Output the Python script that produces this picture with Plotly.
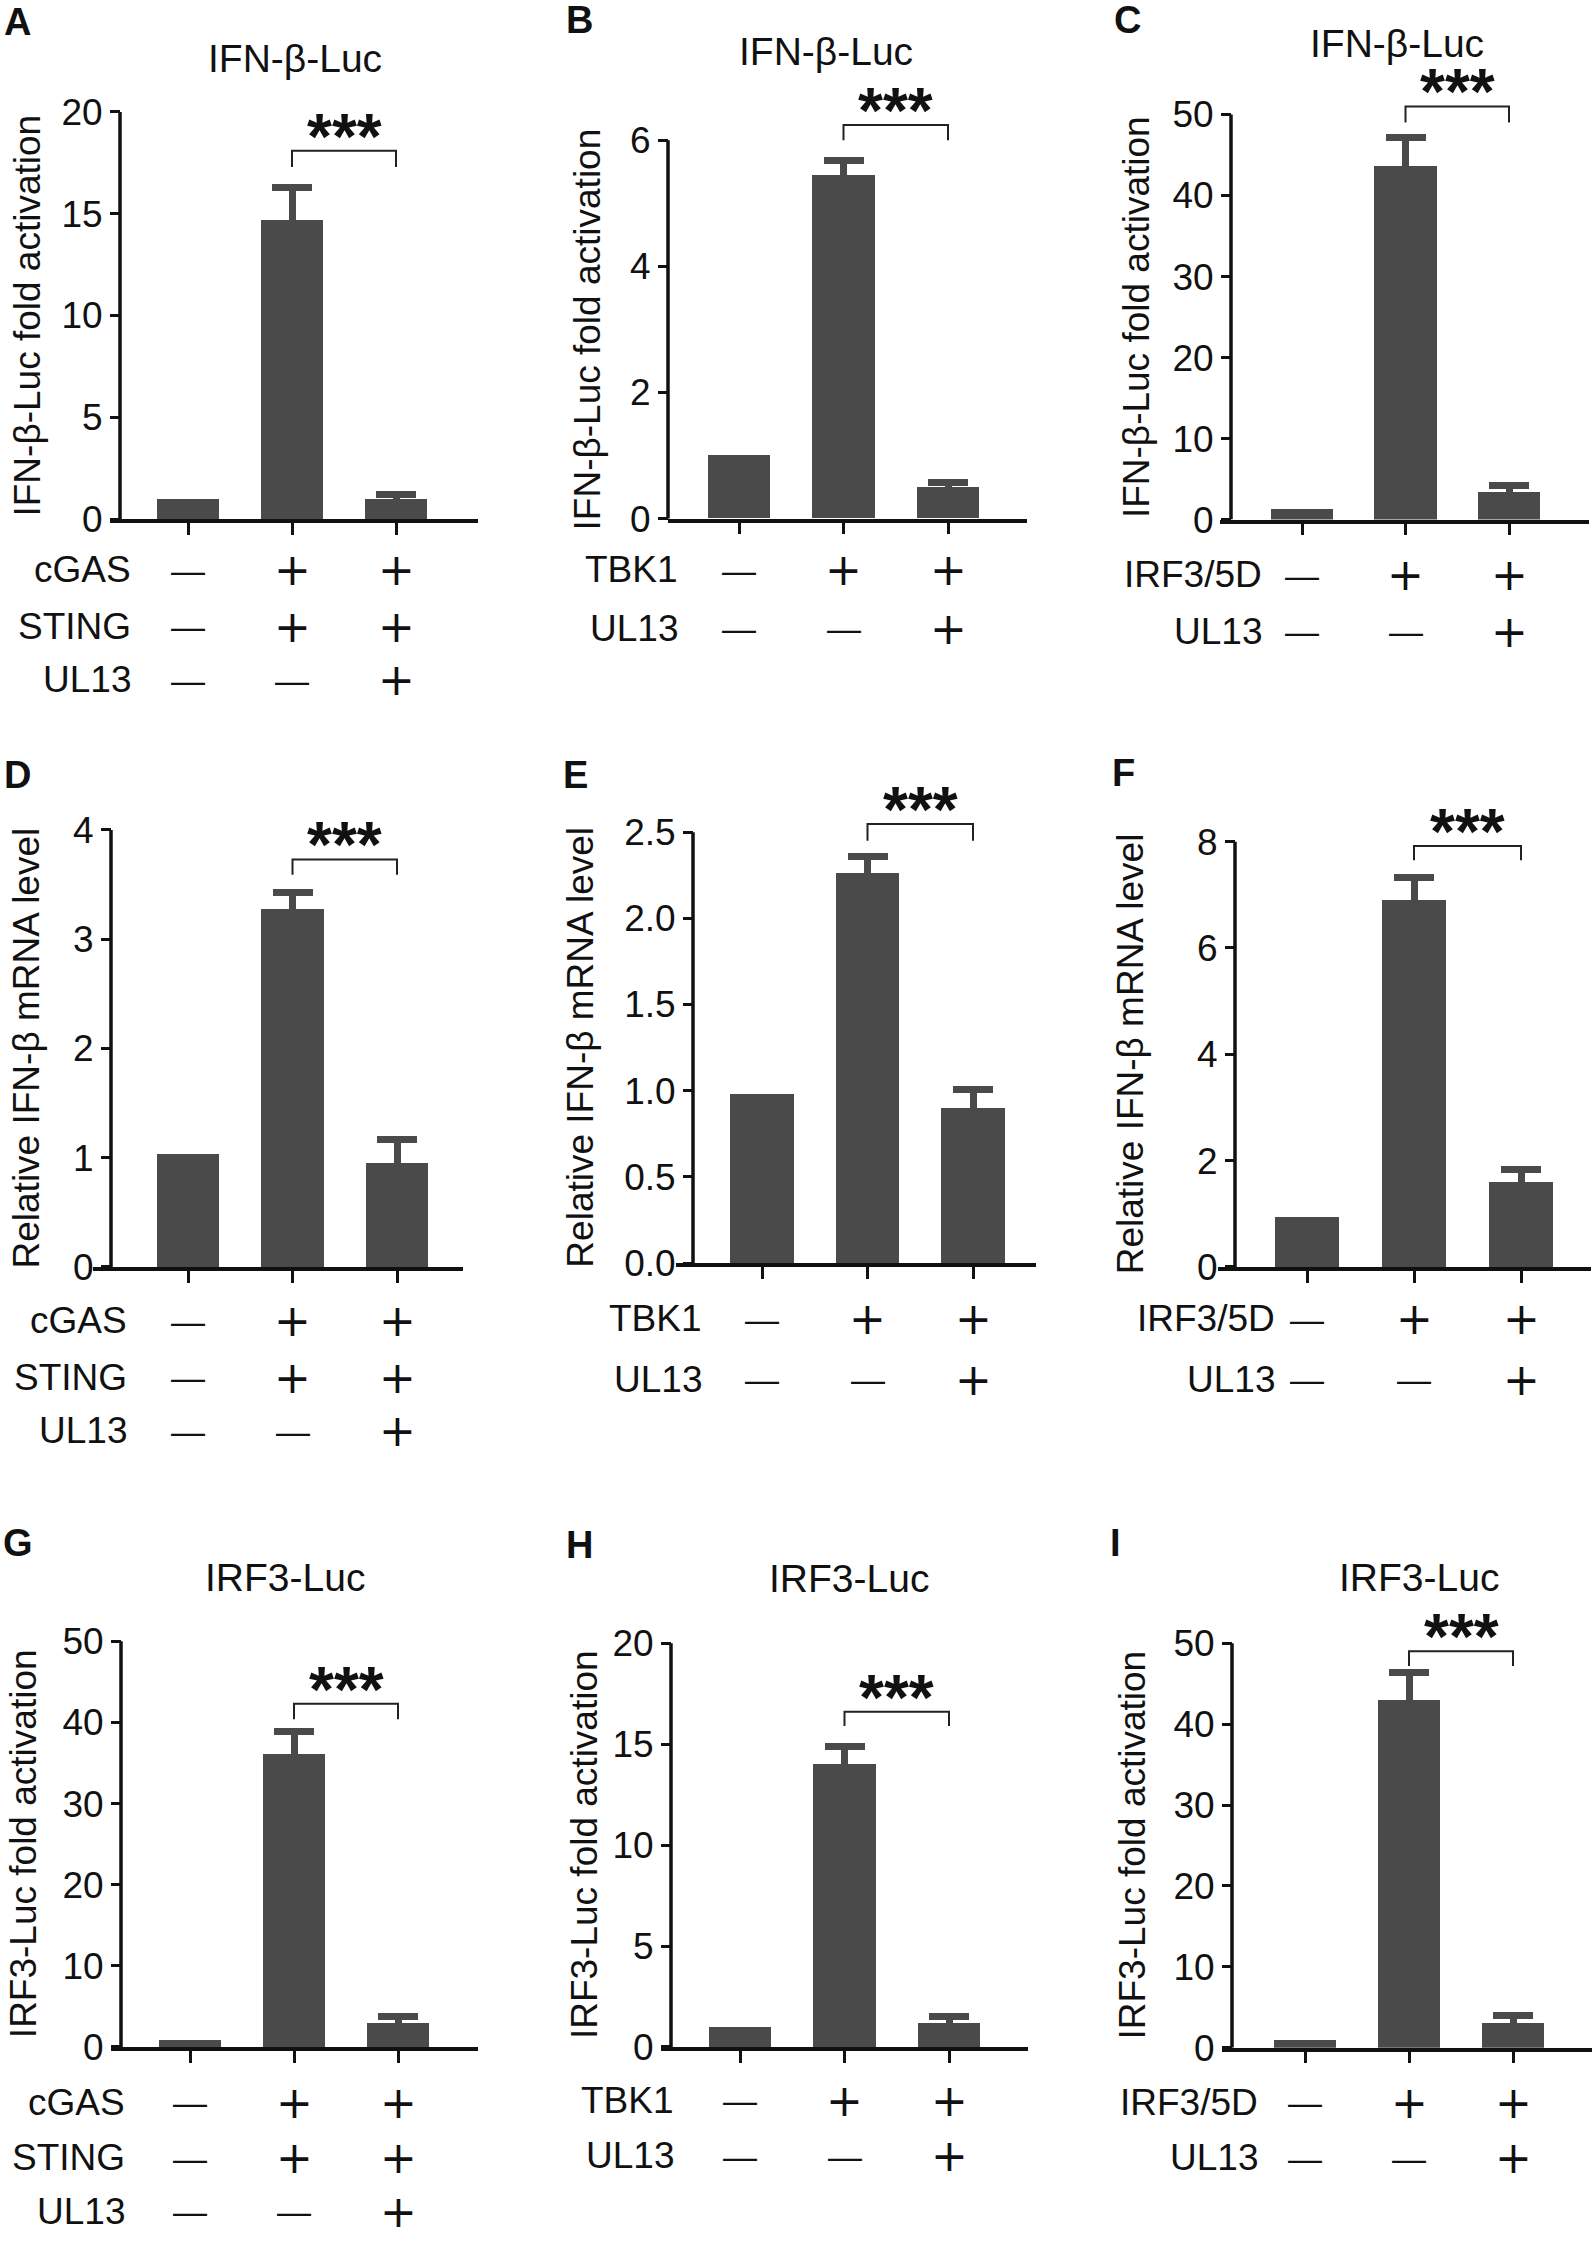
import plotly.graph_objects as go

W, H = 1594, 2252
FONT = "Liberation Sans, Arial, Helvetica, sans-serif"
SIGNFONT = "DejaVu Sans, Liberation Sans, Arial, sans-serif"
BAR = "#4a4a4a"
INK = "#111111"

# ---------------- data ----------------
letters = ["A", "B", "C", "D", "E", "F", "G", "H", "I"]
titles = ["IFN-β-Luc", "IFN-β-Luc", "IFN-β-Luc", None, None, None,
          "IRF3-Luc", "IRF3-Luc", "IRF3-Luc"]
ytitles = ["IFN-β-Luc fold activation"] * 3 + ["Relative IFN-β mRNA level"] * 3 + \
          ["IRF3-Luc fold activation"] * 3

means_A = [1.0, 14.7, 1.0];   err_A = [None, 1.6, 0.2]
means_B = [1.0, 5.45, 0.5];   err_B = [None, 0.22, 0.07]
means_C = [1.3, 43.6, 3.4];   err_C = [None, 3.6, 0.8]
means_D = [1.03, 3.27, 0.95]; err_D = [None, 0.16, 0.22]
means_E = [0.98, 2.26, 0.90]; err_E = [None, 0.10, 0.11]
means_F = [0.93, 6.9, 1.6];   err_F = [None, 0.42, 0.24]
means_G = [0.9, 36.2, 3.0];   err_G = [None, 2.7, 0.7]
means_H = [1.0, 14.0, 1.2];   err_H = [None, 0.9, 0.3]
means_I = [1.0, 43.0, 3.1];   err_I = [None, 3.4, 0.9]

yticks_A = [0, 5, 10, 15, 20]
yticks_B = [0, 2, 4, 6]
yticks_C = [0, 10, 20, 30, 40, 50]
yticks_D = [0, 1, 2, 3, 4]
yticks_E = [0.0, 0.5, 1.0, 1.5, 2.0, 2.5]
yticks_F = [0, 2, 4, 6, 8]
yticks_G = [0, 10, 20, 30, 40, 50]
yticks_H = [0, 5, 10, 15, 20]
yticks_I = [0, 10, 20, 30, 40, 50]
ytext_E = ["0.0", "0.5", "1.0", "1.5", "2.0", "2.5"]

# significance: bracket top value, bracket leg end value, star label
sig_A = [18.1, 17.3, "***"]
sig_B = [6.24, 6.0, "***"]
sig_C = [51.0, 49.0, "***"]
sig_D = [3.73, 3.59, "***"]
sig_E = [2.548, 2.45, "***"]
sig_F = [7.92, 7.65, "***"]
sig_G = [42.3, 40.4, "***"]
sig_H = [16.6, 15.9, "***"]
sig_I = [49.0, 47.2, "***"]

rows_sting = [("cGAS", ["—", "+", "+"]), ("STING", ["—", "+", "+"]), ("UL13", ["—", "—", "+"])]
rows_tbk1 = [("TBK1", ["—", "+", "+"]), ("UL13", ["—", "—", "+"])]
rows_irf = [("IRF3/5D", ["—", "+", "+"]), ("UL13", ["—", "—", "+"])]

means = [means_A, means_B, means_C, means_D, means_E, means_F, means_G, means_H, means_I]
errs = [err_A, err_B, err_C, err_D, err_E, err_F, err_G, err_H, err_I]
yticks = [yticks_A, yticks_B, yticks_C, yticks_D, yticks_E, yticks_F, yticks_G, yticks_H, yticks_I]
ytexts = [None, None, None, None, ytext_E, None, None, None, None]
sigs = [sig_A, sig_B, sig_C, sig_D, sig_E, sig_F, sig_G, sig_H, sig_I]
rowsets = [rows_sting, rows_tbk1, rows_irf] * 3

# ---------------- layout geometry (pixels) ----------------
geom = [
    dict(xs=110, xe=478, t1=188, t3=396, ya=120, p0=524, ptop=113,
         lab=(133, [575, 632, 686]), yt=28, ti=(295, 59), le=(17, 22)),
    dict(xs=668, xe=1027, t1=739, t3=948, ya=668, p0=523.6, ptop=141.5,
         lab=(680, [575, 634]), yt=587, ti=(826, 52), le=(579, 20)),
    dict(xs=1220, xe=1589, t1=1302, t3=1509, ya=1231, p0=524.5, ptop=115.6,
         lab=(1264, [580, 637]), yt=1136, ti=(1397, 44), le=(1127, 20)),
    dict(xs=93, xe=463, t1=188, t3=397, ya=111, p0=1278.9, ptop=837.8,
         lab=(129, [1333, 1390, 1444]), yt=26, ti=None, le=(17, 782)),
    dict(xs=676, xe=1036, t1=762, t3=973, ya=693, p0=1275, ptop=840,
         lab=(704, [1331, 1392]), yt=581, ti=None, le=(575, 782)),
    dict(xs=1218, xe=1591, t1=1307, t3=1521, ya=1235, p0=1278.9, ptop=849.6,
         lab=(1277, [1331, 1392]), yt=1130, ti=None, le=(1123, 780)),
    dict(xs=111, xe=478, t1=190, t3=398, ya=121, p0=2066.2, ptop=1656.8,
         lab=(127, [2122, 2178, 2232]), yt=23, ti=(285, 1592), le=(18, 1558)),
    dict(xs=661, xe=1028, t1=740, t3=949, ya=671, p0=2066.2, ptop=1658.7,
         lab=(676, [2120, 2176]), yt=584, ti=(849, 1593), le=(579, 1560)),
    dict(xs=1222, xe=1592, t1=1305, t3=1513, ya=1232, p0=2067, ptop=1658.7,
         lab=(1260, [2122, 2178]), yt=1132, ti=(1419, 1592), le=(1115, 1558)),
]


def px(x):
    return x / W


def py(y):
    return 1 - y / H


fig = go.Figure()
shapes = []
annotations = []
cats = [0, 1, 2]

for i in range(9):
    g = geom[i]
    n = "" if i == 0 else str(i + 1)
    xname, yname = "x" + n, "y" + n
    ymax = yticks[i][-1]
    yr_top = ymax * 1.1
    sp = (g["t3"] - g["t1"]) / 2.0
    xr = [-(g["t1"] - g["xs"]) / sp, 2 + (g["xe"] - g["t3"]) / sp]
    pix_per = (g["p0"] - g["ptop"]) / ymax
    dom_top = g["p0"] - pix_per * yr_top

    # control bars (no error bar) and treated bars (mean + SEM)
    ctrl = [c for c in cats if errs[i][c] is None]
    trt = [c for c in cats if errs[i][c] is not None]
    fig.add_trace(go.Bar(
        x=ctrl, y=[means[i][c] for c in ctrl], width=0.6, xaxis=xname, yaxis=yname,
        marker=dict(color=BAR, line=dict(width=0)),
        showlegend=False, hoverinfo="skip"))
    fig.add_trace(go.Bar(
        x=trt, y=[means[i][c] for c in trt], width=0.6, xaxis=xname, yaxis=yname,
        marker=dict(color=BAR, line=dict(width=0)),
        error_y=dict(type="data", array=[errs[i][c] for c in trt], symmetric=True,
                     color=BAR, thickness=7, width=20),
        showlegend=False, hoverinfo="skip"))

    fig.layout["xaxis" + n] = dict(
        domain=[px(g["xs"]), px(g["xe"])], range=xr, anchor=yname,
        tickvals=cats, showticklabels=False, ticks="outside", ticklen=12,
        tickwidth=3, tickcolor=INK, showline=True, linewidth=3.5,
        linecolor=INK, showgrid=False, zeroline=False, fixedrange=True)
    fig.layout["yaxis" + n] = dict(
        domain=[py(g["p0"]), py(dom_top)], range=[0, yr_top],
        anchor="free", position=px(g["ya"]),
        tickvals=yticks[i], ticktext=ytexts[i] if ytexts[i] else [str(v) for v in yticks[i]],
        ticks="outside", ticklen=10, tickwidth=3, tickcolor=INK,
        showline=False, showgrid=False, zeroline=False,
        tickfont=dict(family=FONT, size=37, color=INK), fixedrange=True)

    # y-axis line from 0 to the top tick
    shapes.append(dict(type="line", xref="paper", yref=yname,
                       x0=px(g["ya"]), x1=px(g["ya"]), y0=0, y1=ymax,
                       line=dict(color=INK, width=3.5)))

    # significance bracket between bars 2 and 3
    top, leg, star = sigs[i]
    shapes.append(dict(type="path", xref=xname, yref=yname,
                       path=f"M 1,{leg} L 1,{top} L 2,{top} L 2,{leg}",
                       line=dict(color="#222222", width=2)))
    annotations.append(dict(x=1.5, y=top, xref=xname, yref=yname, text=star,
                            showarrow=False, yanchor="middle", yshift=14,
                            font=dict(family=FONT, size=64, color=INK, weight="bold")))

    # y title
    annotations.append(dict(x=px(g["yt"]), y=py((g["p0"] + g["ptop"]) / 2),
                            xref="paper", yref="paper", text=ytitles[i],
                            textangle=-90, showarrow=False,
                            xanchor="center", yanchor="middle",
                            font=dict(family=FONT, size=37, color=INK)))
    # panel title
    if titles[i]:
        annotations.append(dict(x=px(g["ti"][0]), y=py(g["ti"][1]),
                                xref="paper", yref="paper", text=titles[i],
                                showarrow=False, xanchor="center", yanchor="middle",
                                font=dict(family=FONT, size=39, color=INK)))
    # panel letter
    annotations.append(dict(x=px(g["le"][0]), y=py(g["le"][1]),
                            xref="paper", yref="paper", text="<b>" + letters[i] + "</b>",
                            showarrow=False, xanchor="center", yanchor="middle",
                            font=dict(family=FONT, size=38, color=INK)))
    # treatment rows
    lx, lys = g["lab"]
    for (name, signs), ly in zip(rowsets[i], lys):
        annotations.append(dict(x=px(lx), y=py(ly), xref="paper", yref="paper",
                                text=name, showarrow=False, xanchor="right",
                                yanchor="middle",
                                font=dict(family=FONT, size=37, color=INK)))
        for c, s in zip(cats, signs):
            if s == "+":
                f = dict(family=SIGNFONT, size=44, color=INK)
            else:
                f = dict(family=FONT, size=34, color=INK)
            annotations.append(dict(x=c, y=py(ly), xref=xname, yref="paper",
                                    text=s, showarrow=False, xanchor="center",
                                    yanchor="middle", font=f))

fig.update_layout(width=W, height=H, margin=dict(l=0, r=0, t=0, b=0),
                  paper_bgcolor="white", plot_bgcolor="white",
                  shapes=shapes, annotations=annotations,
                  font=dict(family=FONT, color=INK), bargap=0, barmode="overlay")

fig.write_html("out.html", config={"displayModeBar": False},
               post_script="document.body.style.margin='0';")
